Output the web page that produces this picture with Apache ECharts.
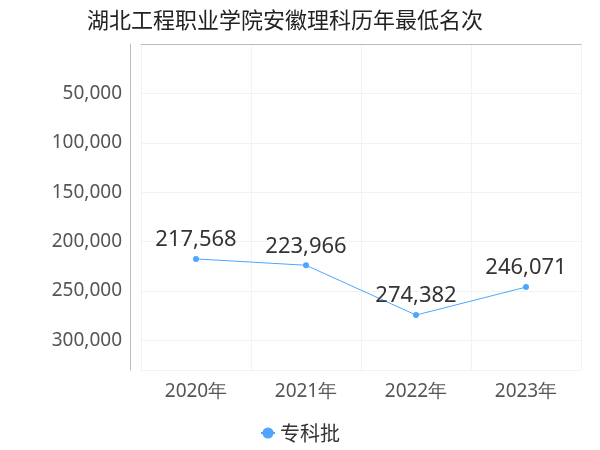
<!DOCTYPE html>
<html><head><meta charset="utf-8">
<script src="https://cdn.jsdelivr.net/npm/echarts@6/dist/echarts.min.js"></script>
</head><body style="margin:0">
<div id="c" style="width:600px;height:450px"></div>
<script>
const categories = ['2020年','2021年','2022年','2023年'];
const values = [217568, 223966, 274382, 246071];
const seriesName = '专科批';
const chart = echarts.init(document.getElementById('c'));
chart.setOption({
  title:{text:'湖北工程职业学院安徽理科历年最低名次',left:82,top:4,textStyle:{fontSize:22,fontWeight:'normal',color:'#222',fontFamily:'Noto Sans CJK SC'}},
  legend:{bottom:2,left:'center',itemWidth:14,textStyle:{fontSize:20,color:'#333',fontFamily:'Noto Sans CJK SC'},data:[seriesName]},
  grid:{left:141,right:19,top:44,bottom:80},
  xAxis:{type:'category',data:categories,boundaryGap:true,
    axisLine:{lineStyle:{color:'#bbb'}},axisTick:{show:false},
    splitLine:{show:true,lineStyle:{color:'#f2f2f2'}},
    axisLabel:{fontSize:19,color:'#555',margin:12,fontFamily:'Noto Sans'}},
  yAxis:{type:'value',inverse:true,min:0,max:330000,interval:50000,offset:11,
    axisLine:{show:true,lineStyle:{color:'#bbb'}},
    splitLine:{lineStyle:{color:'#f2f2f2'}},
    axisLabel:{fontSize:19,color:'#555',showMinLabel:false,showMaxLabel:false,fontFamily:'Noto Sans',
      formatter:v=>v.toLocaleString('en-US')}},
  series:[{name:seriesName,type:'line',data:values,symbol:'circle',symbolSize:6,
    itemStyle:{color:'#4da6ff'},lineStyle:{width:1,color:'#4da6ff'},
    label:{show:true,position:'top',fontSize:22,color:'#333',fontFamily:'Noto Sans',
      formatter:p=>p.value.toLocaleString('en-US')}}]
});
</script></body></html>
